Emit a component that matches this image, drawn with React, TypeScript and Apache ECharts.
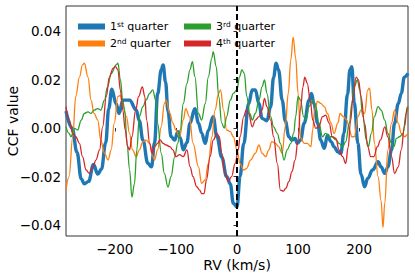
import React, { useEffect, useRef } from 'react';
import * as echarts from 'echarts';

const seriesNames = ['1st quarter', '2nd quarter', '3rd quarter', '4th quarter'];
const seriesColors = ['#1f77b4', '#ff7f0e', '#2ca02c', '#d62728'];
const xTicks = [-200, -100, 0, 100, 200];
const yTicks = [-0.04, -0.02, 0, 0.02, 0.04];

// [RV (km/s), CCF value]
const q1 = [
  [-280, 0.007], [-270, 0.0], [-262, -0.01], [-255, -0.021], [-250, -0.023], [-243, -0.022], [-235, -0.015],
  [-228, -0.019], [-222, -0.017], [-215, -0.006], [-210, 0.008], [-205, 0.016], [-198, 0.01], [-193, 0.006],
  [-187, 0.0115], [-176, 0.0115], [-165, 0.0075], [-160, 0.003], [-154, -0.005], [-146, -0.0145], [-140, -0.016],
  [-135, -0.006], [-130, 0.014], [-124, 0.024], [-121, 0.026], [-117, 0.019], [-113, 0.007], [-108, -0.0035],
  [-102, -0.005], [-97, -0.0015], [-93, -0.004], [-88, -0.009], [-82, -0.006], [-77, 0.002], [-69, 0.008],
  [-63, 0.002], [-58, -0.002], [-52, -0.0063], [-47, -0.001], [-39, 0.0047], [-33, -0.0035], [-25, -0.012],
  [-17, -0.02], [-11, -0.023], [-6, -0.031], [0, -0.0325], [5, -0.02], [11, -0.0065], [19, 0.01], [25, 0.0157],
  [30, 0.0157], [36, 0.01], [41, 0.004], [49, 0.003], [55, 0.0087], [60, 0.021], [64, 0.0267], [68, 0.024],
  [74, 0.0115], [79, 0.003], [85, -0.0036], [90, -0.005], [95, -0.0043], [99, -0.0063], [104, -0.005], [110, 0.002],
  [118, 0.0115], [122, 0.0143], [126, 0.01], [132, 0.002], [137, -0.005], [143, -0.0084], [148, -0.003],
  [154, -0.0056], [159, -0.0077], [165, -0.0098], [170, -0.0105], [175, -0.0022], [181, 0.014], [185, 0.024],
  [188, 0.0253], [192, 0.0105], [198, -0.0063], [203, -0.019], [209, -0.0242], [214, -0.0208], [222, -0.0173],
  [231, -0.0139], [236, -0.016], [242, -0.0187], [247, -0.016], [253, -0.0091], [258, 0.002], [264, 0.01],
  [269, 0.0143], [274, 0.021], [280, 0.0225],
];

const q2 = [
  [-280, -0.0256], [-275, -0.02], [-269, -0.0037], [-264, 0.013], [-258, 0.021], [-253, 0.026], [-250, 0.0267],
  [-244, 0.021], [-239, 0.0115], [-234, 0.006], [-228, 0.0033], [-223, -0.005], [-217, -0.0104], [-211, -0.0132],
  [-206, -0.009], [-201, 0.002], [-195, 0.013], [-191, 0.0135], [-187, 0.009], [-181, 0.0047], [-176, -0.0022],
  [-171, -0.009], [-165, -0.0118], [-160, -0.009], [-154, -0.0056], [-149, -0.005], [-143, -0.0063], [-138, -0.0118],
  [-135, -0.0132], [-130, -0.009], [-124, 0.0006], [-119, 0.01], [-116, 0.0115], [-110, 0.006], [-105, 0.002],
  [-100, -0.0008], [-94, -0.0036], [-88, 0.0033], [-84, 0.008], [-78, 0.0047], [-72, -0.0063], [-63, -0.016],
  [-58, -0.0228], [-52, -0.0214], [-47, -0.0146], [-41, -0.0036], [-36, 0.0074], [-30, 0.0143], [-27, 0.0157],
  [-22, 0.0074], [-17, -0.0008], [-11, -0.0015], [-6, -0.0036], [0, -0.009], [5, -0.0146], [11, -0.0173],
  [16, -0.0166], [22, -0.0132], [30, -0.0104], [36, -0.007], [41, -0.0104], [47, -0.0118], [52, -0.009],
  [57, -0.0056], [63, -0.0063], [68, -0.0077], [74, -0.0104], [79, 0.0006], [84, 0.0144], [88, 0.028],
  [92, 0.0375], [96, 0.029], [100, 0.0144], [104, -0.004], [110, -0.0063], [115, -0.0063], [121, -0.0077],
  [124, -0.0008], [127, 0.0074], [132, 0.011], [137, 0.0102], [143, 0.0088], [148, 0.006], [154, 0.002],
  [159, -0.0022], [165, 0.002], [169, 0.006], [174, 0.0047], [180, 0.0033], [184, -0.0008], [188, -0.0036],
  [192, -0.0036], [198, 0.0047], [203, 0.0074], [209, 0.006], [214, 0.0157], [217, 0.0164], [221, 0.0074],
  [225, -0.0063], [231, -0.02], [236, -0.03], [239, -0.041], [242, -0.031], [247, -0.009], [253, 0.002],
  [258, 0.0074], [264, 0.002], [269, -0.0022], [274, -0.0036], [280, -0.0022],
];

const q3 = [
  [-280, 0.0005], [-275, -0.0022], [-272, -0.0036], [-266, -0.0001], [-261, -0.0008], [-255, 0.0033], [-250, 0.006],
  [-244, 0.0067], [-239, 0.006], [-234, 0.0074], [-228, 0.008], [-223, 0.0074], [-217, 0.0115], [-212, 0.017],
  [-206, 0.0225], [-198, 0.026], [-195, 0.0267], [-191, 0.02], [-187, 0.011], [-184, 0.0074], [-180, -0.0063],
  [-176, -0.017], [-172, -0.0285], [-168, -0.023], [-164, -0.009], [-160, 0.0047], [-154, 0.0088], [-149, 0.0115],
  [-143, 0.0143], [-138, 0.0157], [-133, 0.0115], [-130, 0.002], [-124, -0.0104], [-119, -0.0187], [-113, -0.0243],
  [-108, -0.02], [-102, -0.0118], [-97, -0.0063], [-93, -0.0008], [-88, 0.01], [-82, 0.0184], [-77, 0.024],
  [-73, 0.0274], [-69, 0.0212], [-63, 0.006], [-58, 0.0033], [-52, 0.01], [-47, 0.021], [-41, 0.029],
  [-39, 0.0315], [-34, 0.0253], [-30, 0.013], [-25, 0.002], [-21, 0.0], [-17, 0.0047], [-11, 0.0115],
  [-6, 0.0143], [0, 0.0157], [4, 0.021], [8, 0.024], [12, 0.0225], [16, 0.013], [21, 0.006], [25, 0.0033],
  [30, 0.006], [36, 0.0115], [41, 0.017], [45, 0.0198], [49, 0.0143], [55, 0.0047], [60, 0.0005], [66, -0.0022],
  [71, -0.0063], [77, -0.0132], [82, -0.009], [88, -0.0063], [93, -0.002], [96, 0.0047], [100, 0.013],
  [104, 0.0115], [109, 0.0047], [113, 0.0033], [118, 0.0088], [124, 0.0115], [129, 0.0088], [134, 0.002],
  [140, -0.0036], [145, -0.0022], [151, -0.0036], [156, -0.0036], [162, -0.0049], [167, -0.0063], [173, -0.0077],
  [178, -0.0056], [184, 0.002], [188, 0.01], [192, 0.017], [197, 0.0198], [201, 0.0157], [206, 0.0047],
  [212, -0.005], [215, -0.0077], [220, -0.0022], [225, 0.0047], [231, 0.0088], [236, 0.0074], [242, 0.0033],
  [247, -0.0022], [253, -0.0063], [257, -0.0077], [261, -0.0043], [266, -0.0036], [272, -0.0022], [277, 0.006],
  [280, 0.0088],
];

const q4 = [
  [-280, 0.0088], [-275, 0.0033], [-269, -0.0022], [-264, -0.0036], [-258, -0.0063], [-253, -0.0118], [-247, -0.0173],
  [-242, -0.0187], [-236, -0.016], [-231, -0.0132], [-225, -0.009], [-220, 0.0005], [-214, 0.013], [-209, 0.021],
  [-203, 0.0246], [-199, 0.0253], [-195, 0.0239], [-191, 0.0157], [-187, 0.0074], [-183, -0.0008], [-179, -0.0077],
  [-176, -0.009], [-172, -0.0036], [-166, 0.0074], [-161, 0.013], [-155, 0.017], [-151, 0.013], [-148, 0.0033],
  [-143, -0.0063], [-139, -0.0104], [-135, -0.0077], [-130, -0.0063], [-126, -0.0049], [-121, -0.0063],
  [-116, -0.007], [-110, -0.0077], [-105, -0.009], [-100, -0.0118], [-94, -0.011], [-88, -0.0118], [-82, -0.009],
  [-77, -0.0159], [-72, -0.02], [-66, -0.0242], [-61, -0.0256], [-58, -0.027], [-54, -0.027], [-50, -0.0214],
  [-44, -0.0118], [-39, -0.005], [-33, -0.0022], [-29, -0.0036], [-25, -0.0104], [-20, -0.0187], [-14, -0.022],
  [-9, -0.02], [-3, -0.0146], [2, -0.009], [5, -0.0036], [11, 0.0047], [15, 0.0074], [19, 0.006], [25, 0.0005],
  [30, 0.0033], [36, 0.0047], [41, 0.0074], [45, 0.0122], [49, 0.0088], [55, 0.0033], [60, -0.0036],
  [66, -0.0146], [71, -0.0256], [76, -0.026], [80, -0.0248], [85, -0.022], [90, -0.018], [95, -0.0132],
  [100, -0.005], [104, 0.008], [108, 0.017], [111, 0.021], [115, 0.0184], [120, 0.0115], [124, 0.0033],
  [129, -0.0001], [134, 0.0005], [140, 0.0047], [145, 0.0053], [151, 0.002], [156, -0.0036], [162, -0.0043],
  [167, -0.009], [173, -0.0118], [178, -0.0146], [182, -0.008], [186, 0.003], [190, 0.013], [195, 0.021],
  [199, 0.0198], [203, 0.013], [209, 0.0019], [214, -0.0077], [219, -0.0118], [224, -0.0118], [230, -0.0077],
  [235, -0.0049], [242, 0.0005], [247, -0.0036], [253, -0.0118], [258, -0.0187], [264, -0.016], [269, -0.009],
  [274, 0.0005], [279, 0.0088], [280, 0.0088],
];

const seriesData = [q1, q2, q3, q4];
const lineWidths = [3.4, 1.3, 1.3, 1.3];

const FONT = 'DejaVu Sans';
const minus = (v: number, digits: number) => (v < 0 ? '\u2212' : '') + Math.abs(v).toFixed(digits);

export default function App() {
  const ref = useRef<HTMLDivElement>(null);
  useEffect(() => {
    if (!ref.current) return;
    const chart = echarts.init(ref.current, null, { renderer: 'svg' });
    const legendText = {
      fontFamily: FONT,
      fontSize: 11,
      color: '#000',
      lineHeight: 13,
      rich: {
        n: { fontFamily: FONT, fontSize: 11, color: '#000', lineHeight: 13 },
        sup: { fontFamily: FONT, fontSize: 7.5, color: '#000', lineHeight: 8, verticalAlign: 'top' },
      },
    };
    const fmt = (name: string) => {
      const m = name.match(/^(\d)(st|nd|rd|th)(.*)$/);
      return m ? `{n|${m[1]}}{sup|${m[2]}}{n|${m[3]}}` : name;
    };
    const series: any[] = seriesNames.map((name, i) => ({
      name,
      type: 'line',
      data: seriesData[i],
      showSymbol: false,
      smooth: 0.4,
      smoothMonotone: 'x',
      color: seriesColors[i],
      lineStyle: { width: lineWidths[i], color: seriesColors[i] },
      z: 2 + i,
    }));
    series[3].markLine = {
      silent: true,
      symbol: 'none',
      label: { show: false },
      lineStyle: { type: [6, 3], color: '#000', width: 2 },
      data: [{ xAxis: 0 }],
      z: 10,
    };
    chart.setOption({
      animation: false,
      textStyle: { fontFamily: FONT },
      grid: {
        left: 66, right: 7, top: 6, bottom: 41,
        outerBoundsMode: 'none', containLabel: false,
        show: true, borderColor: '#333', borderWidth: 1, backgroundColor: 'transparent',
      },
      legend: [
        {
          data: [seriesNames[0], seriesNames[1]],
          orient: 'vertical', left: 73, top: 15, itemGap: 4,
          itemWidth: 27, itemHeight: 6, icon: 'rect', selectedMode: false,
          textStyle: legendText, formatter: fmt,
        },
        {
          data: [seriesNames[2], seriesNames[3]],
          orient: 'vertical', left: 179, top: 15, itemGap: 4,
          itemWidth: 27, itemHeight: 6, icon: 'rect', selectedMode: false,
          textStyle: legendText, formatter: fmt,
        },
      ],
      xAxis: {
        type: 'value', min: -280, max: 280,
        name: 'RV (km/s)', nameLocation: 'middle', nameGap: 21, nameMoveOverlap: false,
        nameTextStyle: { fontFamily: FONT, fontSize: 14, color: '#000', lineHeight: 16 },
        axisLine: { show: false },
        axisTick: { show: true, inside: false, length: 3.5, customValues: xTicks, lineStyle: { color: '#333' } },
        axisLabel: {
          customValues: xTicks, margin: 6, fontFamily: FONT, fontSize: 13.5, color: '#000', lineHeight: 14,
          formatter: (v: number) => minus(v, 0),
        },
        splitLine: { show: false },
      },
      yAxis: {
        type: 'value', min: -0.0445, max: 0.0503,
        name: 'CCF value', nameLocation: 'middle', nameGap: 46, nameMoveOverlap: false,
        nameTextStyle: { fontFamily: FONT, fontSize: 14, color: '#000' },
        axisLine: { show: false },
        axisTick: { show: true, inside: false, length: 3.5, customValues: yTicks, lineStyle: { color: '#333' } },
        axisLabel: {
          customValues: yTicks, margin: 5, fontFamily: FONT, fontSize: 13.5, color: '#000',
          formatter: (v: number) => minus(v, 2),
        },
        splitLine: { show: false },
      },
      series,
    });
    return () => chart.dispose();
  }, []);
  return (
    <div
      ref={ref}
      style={{ position: 'fixed', left: 0, top: 0, width: 415, height: 277, background: '#fff' }}
    />
  );
}
